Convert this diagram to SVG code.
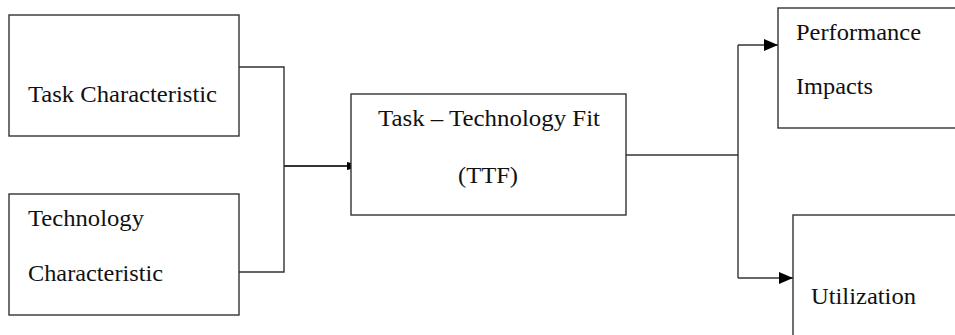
<svg xmlns="http://www.w3.org/2000/svg" width="955" height="335" viewBox="0 0 955 335">
<defs>
<style>
.box{fill:#fff;stroke:#333;stroke-width:1.4}
.ln{fill:none;stroke:#333;stroke-width:1.4}
.t{font-family:"Liberation Serif","Times New Roman",serif;font-size:24px;fill:#111}
</style>
<marker id="ah" viewBox="0 0 14 12" refX="14" refY="6" markerWidth="14" markerHeight="12" markerUnits="userSpaceOnUse" orient="auto">
<path d="M0,0 L14,6 L0,12 Z" fill="#000"/>
</marker>
<marker id="ahs" viewBox="0 0 4 10" refX="4" refY="5" markerWidth="4" markerHeight="10" markerUnits="userSpaceOnUse" orient="auto">
<path d="M0,1 L4,2 L4,8 L0,9 Z" fill="#000"/>
</marker>
</defs>
<rect width="955" height="335" fill="#fff"/>
<g id="connectors">
<path class="ln" d="M239,67 H284 V272 H239"/>
<path class="ln" d="M284,166 H351" style="stroke-width:2" marker-end="url(#ahs)"/>
<path class="ln" d="M626,155 H738"/>
<path class="ln" d="M738,45 V278"/>
<path class="ln" d="M738,45 H778" marker-end="url(#ah)"/>
<path class="ln" d="M738,278 H793" marker-end="url(#ah)"/>
</g>
<g id="task">
<rect class="box" x="9" y="15" width="230" height="121"/>
<text class="t" x="28" y="102" textLength="189" lengthAdjust="spacingAndGlyphs">Task Characteristic</text>
</g>
<g id="technology">
<rect class="box" x="9" y="194" width="230" height="121"/>
<text class="t" x="28" y="226" textLength="116" lengthAdjust="spacingAndGlyphs">Technology</text>
<text class="t" x="28" y="281" textLength="135" lengthAdjust="spacingAndGlyphs">Characteristic</text>
</g>
<g id="ttf">
<rect class="box" x="351" y="94" width="275" height="121"/>
<text class="t" x="489" y="126" text-anchor="middle" textLength="222" lengthAdjust="spacingAndGlyphs">Task – Technology Fit</text>
<text class="t" x="488" y="183" text-anchor="middle" textLength="60" lengthAdjust="spacingAndGlyphs">(TTF)</text>
</g>
<g id="performance">
<rect class="box" x="778" y="8" width="190" height="120"/>
<text class="t" x="796" y="40" textLength="125" lengthAdjust="spacingAndGlyphs">Performance</text>
<text class="t" x="796" y="94" textLength="77" lengthAdjust="spacingAndGlyphs">Impacts</text>
</g>
<g id="utilization">
<rect class="box" x="793" y="215" width="190" height="140"/>
<text class="t" x="811" y="304" textLength="105" lengthAdjust="spacingAndGlyphs">Utilization</text>
</g>
</svg>
